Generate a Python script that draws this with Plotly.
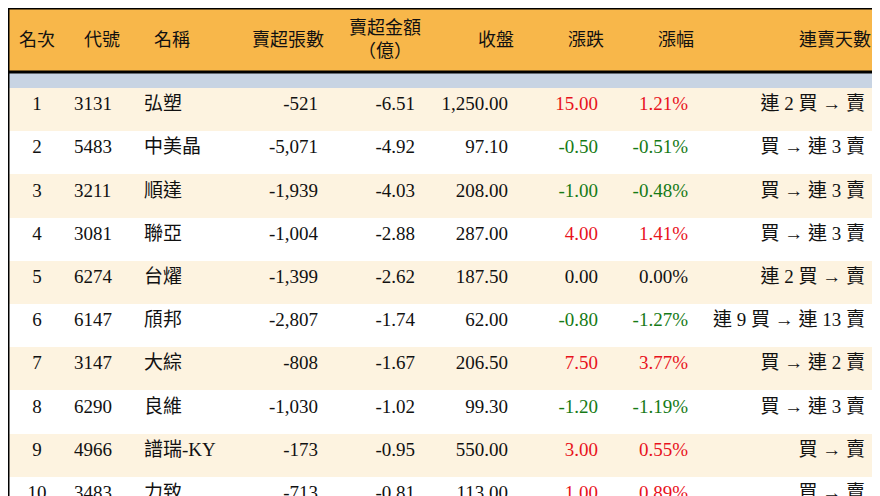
import plotly.graph_objects as go

headers = ["名次", "代號", "名稱", "賣超張數", "賣超金額<br>（億）", "收盤", "漲跌", "漲幅", "連賣天數"]
ranks = [1, 2, 3, 4, 5, 6, 7, 8, 9, 10]
codes = ["3131", "5483", "3211", "3081", "6274", "6147", "3147", "6290", "4966", "3483"]
names = ["弘塑", "中美晶", "順達", "聯亞", "台燿", "頎邦", "大綜", "良維", "譜瑞-KY", "力致"]
net_shares = [-521, -5071, -1939, -1004, -1399, -2807, -808, -1030, -173, -713]
net_amount = [-6.51, -4.92, -4.03, -2.88, -2.62, -1.74, -1.67, -1.02, -0.95, -0.81]
close = [1250.00, 97.10, 208.00, 287.00, 187.50, 62.00, 206.50, 99.30, 550.00, 113.00]
change = [15.00, -0.50, -1.00, 4.00, 0.00, -0.80, 7.50, -1.20, 3.00, 1.00]
pct = [1.21, -0.51, -0.48, 1.41, 0.00, -1.27, 3.77, -1.19, 0.55, 0.89]
streak = ["連 2 買 → 賣", "買 → 連 3 賣", "買 → 連 3 賣", "買 → 連 3 賣", "連 2 買 → 賣",
          "連 9 買 → 連 13 賣", "買 → 連 2 賣", "買 → 連 3 賣", "買 → 賣", "買 → 賣"]

RED, GREEN, BLACK = "#E8121C", "#167A16", "#111111"
def col(v):
    return RED if v > 0 else (GREEN if v < 0 else BLACK)

W, H, HEAD = 880, 496, 64
widths = [58, 70, 102, 88, 97, 93, 90, 90, 177, 15]
aligns = ["center", "left", "left", "right", "right", "right", "right", "right", "right", "left"]

n = len(ranks)
row_fill = ["#FDF3E0" if i % 2 == 0 else "#FFFFFF" for i in range(n)]
cells = [
    [str(r) for r in ranks],
    codes,
    names,
    [f"{v:,}" for v in net_shares],
    [f"{v:.2f}" for v in net_amount],
    [f"{v:,.2f}" for v in close],
    [f"{v:.2f}" for v in change],
    [f"{v:.2f}%" for v in pct],
    streak,
    [""] * n,
]
fc = [[BLACK] * n] * 6 + [[col(v) for v in change], [col(v) for v in pct], [BLACK] * n, [BLACK] * n]
FONT = "Liberation Serif, Noto Sans CJK TC, serif"

fig = go.Figure(go.Table(
    columnwidth=widths,
    header=dict(values=[], height=0, line=dict(width=0)),
    cells=dict(values=cells, height=43.2, fill_color=[row_fill] * len(widths),
               line=dict(width=0, color="white"),
               align=aligns,
               font=dict(family=FONT, size=19, color=fc)),
    domain=dict(x=[0, 1], y=[0, 1 - HEAD / H]),
))

# header annotations
edges = [0]
for w in widths:
    edges.append(edges[-1] + w)
annos = []
for i, h in enumerate(headers):
    a = aligns[i]
    if a == "center":
        x, xa = (edges[i] + edges[i + 1]) / 2, "center"
    elif a == "left":
        x, xa = edges[i] + 16, "left"
    else:
        x, xa = edges[i + 1], "right"
    annos.append(dict(x=x / W, y=1 - 32 / H, xref="paper", yref="paper", text=h,
                      xanchor=xa, yanchor="middle", showarrow=False,
                      align="center", font=dict(family=FONT, size=18, color=BLACK)))

fig.update_layout(
    width=W, height=H, margin=dict(l=0, r=0, t=0, b=0), paper_bgcolor="white",
    annotations=annos,
    shapes=[
        dict(type="rect", xref="paper", yref="paper", x0=0, x1=1, y0=1 - HEAD / H, y1=1,
             fillcolor="#F8B74A", line=dict(width=0), layer="below"),
        dict(type="rect", xref="paper", yref="paper", x0=0, x1=1, y0=0, y1=1,
             line=dict(color="black", width=3)),
        dict(type="line", xref="paper", yref="paper", x0=0, x1=1,
             y0=1 - HEAD / H, y1=1 - HEAD / H, line=dict(color="black", width=3)),
    ],
)
fig.write_html("out.html")
